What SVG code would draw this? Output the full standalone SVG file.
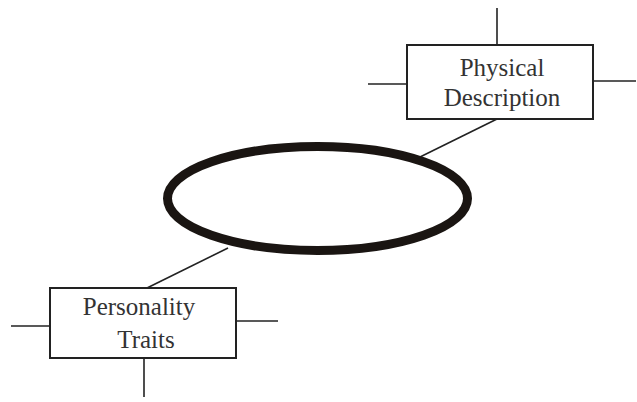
<svg xmlns="http://www.w3.org/2000/svg" width="637" height="402" viewBox="0 0 637 402">
<style>
.box{fill:#fff;stroke:#222;stroke-width:2}
.ln{stroke:#222;stroke-width:1.6;fill:none}
.t{font-family:"Liberation Serif",serif;font-size:25px;fill:#333;text-anchor:middle}
</style>
<rect width="637" height="402" fill="#fff"/>
<g id="connectors">
<line class="ln" x1="497" y1="119" x2="420" y2="157"/>
<line class="ln" x1="147" y1="288" x2="228" y2="248"/>
</g>
<g id="center">
<ellipse cx="317.5" cy="198.5" rx="150" ry="52" fill="#fff" stroke="#1a1512" stroke-width="9"/>
</g>
<g id="physical">
<line class="ln" x1="497" y1="8" x2="497" y2="45"/>
<line class="ln" x1="368" y1="84" x2="407" y2="84"/>
<line class="ln" x1="593" y1="81" x2="636" y2="81"/>
<rect class="box" x="407" y="45" width="186" height="74"/>
<text class="t" x="502" y="76">Physical</text>
<text class="t" x="502" y="106">Description</text>
</g>
<g id="personality">
<line class="ln" x1="11" y1="326" x2="50" y2="326"/>
<line class="ln" x1="236" y1="321" x2="278" y2="321"/>
<line class="ln" x1="144" y1="358" x2="144" y2="397"/>
<rect class="box" x="50" y="288" width="186" height="70"/>
<text class="t" x="139" y="315">Personality</text>
<text class="t" x="146" y="348">Traits</text>
</g>
</svg>
